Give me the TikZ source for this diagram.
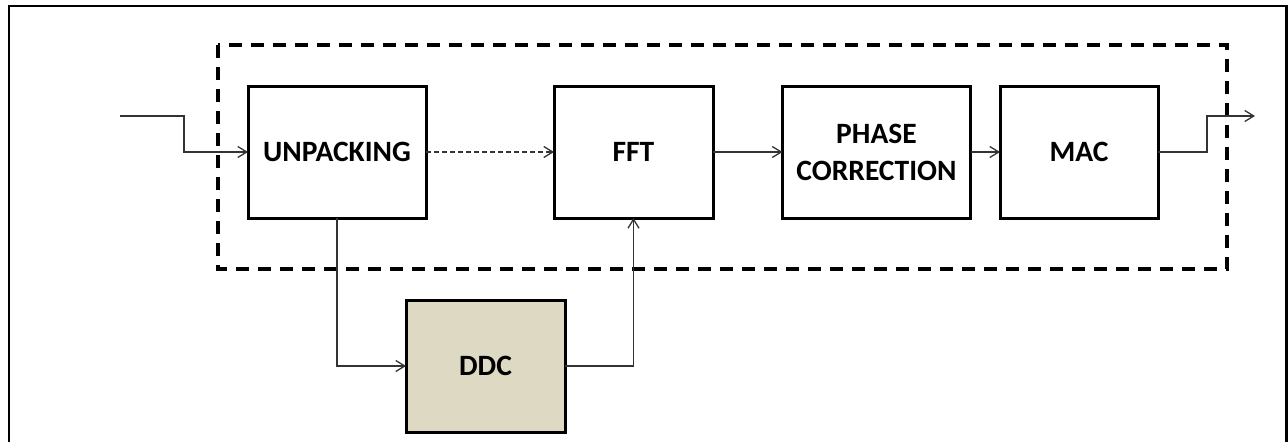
\documentclass[tikz,border=0pt]{standalone}
\usepackage{fontspec}
\setmainfont{Carlito}
\usetikzlibrary{arrows.meta,positioning,calc}
\definecolor{ddctan}{HTML}{DDD9C3}

\begin{document}
\begin{tikzpicture}[x=1pt, y=-1pt, line join=miter,
  block/.style={draw, line width=3pt, minimum height=132pt, inner sep=0pt, outer sep=0pt,
                align=center, font=\fontsize{29.5}{37}\selectfont\bfseries},
  link/.style={draw=black!80, line width=1.3pt, -{Straight Barb[length=9pt,width=11pt]}},
  frame/.style={line width=2.2pt},
  group/.style={line width=3.5pt, dash pattern=on 13pt off 9pt}]
\useasboundingbox (0,0) rectangle (1288,442);
\draw[frame] (9,442) -- (9,6) -- (1286.5,6) -- (1286.5,442);
\draw[group] (218,45) rectangle (1227,269);
\node[block, minimum width=178pt]            (unpack) at (337,152)   {UNPACKING};
\node[block, minimum width=159pt]            (fft)    at (633.5,152) {FFT};
\node[block, minimum width=188pt]            (phase)  at (876.5,152) {PHASE\\CORRECTION};
\node[block, minimum width=158pt]            (mac)    at (1079,152)  {MAC};
\node[block, minimum width=159pt, fill=ddctan] (ddc)  at (485.5,366) {DDC};
\coordinate (in)      at (120,116);
\coordinate (inbend)  at (184,152);
\coordinate (outbend) at (1207,116);
\coordinate (out)     at (1255,116);
\draw[link] (in) -| (inbend) -- (unpack.west);
\draw[link, dash pattern=on 5pt off 3pt] (unpack) -- (fft);
\draw[link] (fft) -- (phase);
\draw[link] (phase) -- (mac);
\draw[link] (mac.east) -| (outbend) -- (out);
\draw[link] (unpack.south) |- (ddc.west);
\draw[link] (ddc.east) -| (fft.south);
\end{tikzpicture}
\end{document}
